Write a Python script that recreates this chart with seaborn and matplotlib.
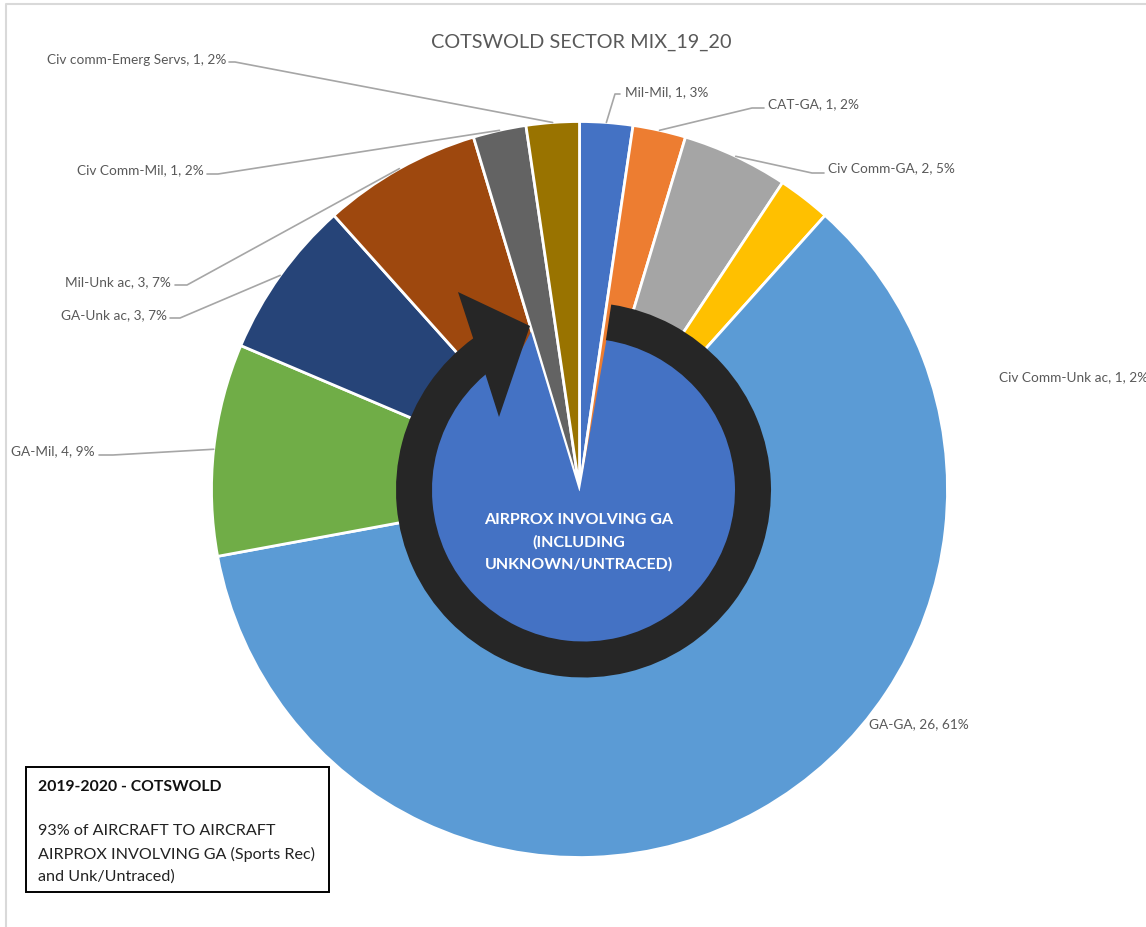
import numpy as np
import matplotlib
matplotlib.use("Agg")
import matplotlib.pyplot as plt
from matplotlib.patches import Wedge, Polygon, Rectangle
from matplotlib.lines import Line2D
import seaborn as sns

# Sector mix, clockwise from twelve o'clock
categories = ["Mil-Mil", "CAT-GA", "Civ Comm-GA", "Civ Comm-Unk ac", "GA-GA", "GA-Mil",
              "GA-Unk ac", "Mil-Unk ac", "Civ Comm-Mil", "Civ comm-Emerg Servs"]
counts = [1, 1, 2, 1, 26, 4, 3, 3, 1, 1]
percent_labels = ["3%", "2%", "5%", "2%", "61%", "9%", "7%", "7%", "2%", "2%"]
slice_colors = ["#4472C4", "#ED7D31", "#A5A5A5", "#FFC000", "#5B9BD5",
                "#70AD47", "#264478", "#9E480E", "#636363", "#997300"]

TITLE = "COTSWOLD SECTOR MIX_19_20"
CALLOUT = ["AIRPROX INVOLVING GA", "(INCLUDING", "UNKNOWN/UNTRACED)"]
NOTE_HEAD = "2019-2020 - COTSWOLD"
NOTE_BODY = ["93% of AIRCRAFT TO AIRCRAFT", "AIRPROX INVOLVING GA (Sports Rec)", "and Unk/Untraced)"]

sns.set_theme(style="white")
plt.rcParams["font.family"] = ["Lato", "DejaVu Sans"]

TEXT = "#595959"
LEADER = "#A6A6A6"
DARK = "#262626"

fig = plt.figure(figsize=(11.46, 9.28), dpi=100, facecolor="white")
ax = fig.add_axes([0, 0, 1, 1])

# The axes run in pixels with y pointing down, so counterclock sweeps clockwise on screen
cx, cy, radius = 579.5, 490.5, 368
wedges, _ = ax.pie(counts, colors=sns.color_palette(slice_colors), startangle=-90, counterclock=True,
                   center=(cx, cy), radius=radius,
                   wedgeprops=dict(edgecolor="white", linewidth=2.0, zorder=1))
ax.set_xlim(0, 1146)
ax.set_ylim(928, 0)
ax.set_aspect("equal")
ax.axis("off")

# Panel border along the top and left
ax.add_line(Line2D([6, 6, 1146], [928, 5, 5], color="#D9D9D9", lw=1.5, zorder=0))

ax.text(581, 42, TITLE, ha="center", va="center", fontsize=14.3, color=TEXT)

# Label layout: text anchor, horizontal alignment, and the elbow of the leader line
label_layout = [
    ((625, 92), "left", [(620, 95), (615, 95)]),
    ((768, 104), "left", [(764, 109), (752, 109)]),
    ((828, 168), "left", [(824, 174), (812, 174)]),
    ((999, 377), "left", None),
    ((869, 724), "left", None),
    ((95, 451), "right", [(99, 456), (113, 456)]),
    ((167, 315), "right", [(170, 319), (180, 319)]),
    ((171, 282), "right", [(175, 286), (187, 286)]),
    ((204, 170), "right", [(207, 175), (218, 175)]),
    ((226, 60), "right", [(229, 63), (235, 63)]),
]
for name, n, pct, wedge, (pos, ha, elbow) in zip(categories, counts, percent_labels, wedges, label_layout):
    ax.text(pos[0], pos[1], f"{name}, {n}, {pct}", ha=ha, va="center", fontsize=9.8, color=TEXT)
    if elbow:
        mid = np.deg2rad((wedge.theta1 + wedge.theta2) / 2)
        end = (cx + radius * np.cos(mid), cy + radius * np.sin(mid))
        xs, ys = zip(*elbow, end)
        ax.add_line(Line2D(xs, ys, color=LEADER, lw=1.2, zorder=2))

# Blue disc, open over the slices that do not involve GA
ring_x, ring_y = 583.5, 491
disc_r = 153
arc = np.deg2rad(np.linspace(8.7 - 90, 336 - 90, 200))
disc = np.column_stack([ring_x + disc_r * np.cos(arc), ring_y + disc_r * np.sin(arc)])
disc = np.vstack([disc, [[531, 333], [579.5, 493]]])
ax.add_patch(Polygon(disc, closed=True, facecolor="#4472C4", edgecolor="none", zorder=3))

# Dark circular arrow around the disc
ax.add_patch(Wedge((ring_x, ring_y), 187.5, 8.5 - 90, 324.3 - 90, width=36, facecolor=DARK, edgecolor="none", zorder=4))
ax.add_patch(Polygon([(458, 293), (530, 327), (499, 418), (485, 374), (472.7, 338)],
                     closed=True, facecolor=DARK, edgecolor="none", zorder=4))

for y, line in zip((520, 542, 564.5), CALLOUT):
    ax.text(579, y, line, ha="center", va="center", fontsize=11.5, fontweight="bold", color="white", zorder=5)

# Summary note box
ax.add_patch(Rectangle((26, 767.5), 303, 125, facecolor="white", edgecolor="black", lw=1.4, zorder=5))
ax.text(38, 787, NOTE_HEAD, ha="left", va="center", fontsize=11.3, fontweight="bold", color="#111111", zorder=6)
for y, line in zip((831, 854, 877), NOTE_BODY):
    ax.text(38, y, line, ha="left", va="center", fontsize=11.6, color="#222222", zorder=6)

fig.savefig("out.png", dpi=100, facecolor="white")
